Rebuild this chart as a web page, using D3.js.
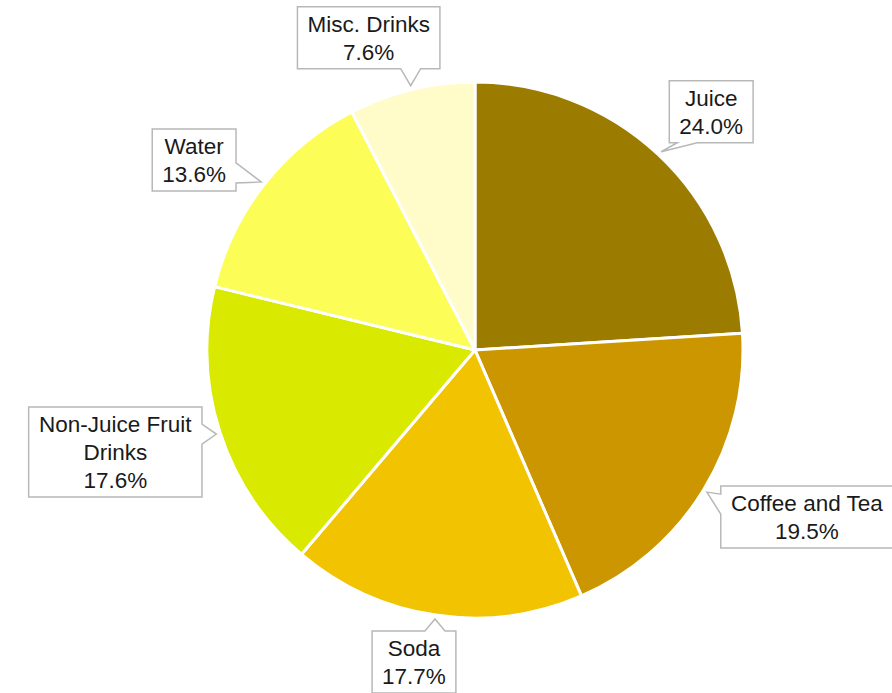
<!DOCTYPE html>
<html>
<head>
<meta charset="utf-8">
<script src="https://cdn.jsdelivr.net/npm/d3@7"></script>
<style>
  html, body { margin: 0; padding: 0; background: #fff; }
  svg { display: block; }
</style>
</head>
<body>
<div id="vis"></div>
<script>
// chart data
var categories = ['Juice', 'Coffee and Tea', 'Soda', 'Non-Juice Fruit Drinks', 'Water', 'Misc. Drinks'];
var shares = [24.0, 19.5, 17.7, 17.6, 13.6, 7.6];
var labelLines = [['Juice'], ['Coffee and Tea'], ['Soda'], ['Non-Juice Fruit', 'Drinks'], ['Water'], ['Misc. Drinks']];
var colors = ['#9b7b00', '#cc9600', '#f2c300', '#d9ea00', '#fdfd58', '#fffcca'];

// callout placement: which edge carries the pointer, and box centre offset from the tip
var callouts = [
  { side: 'bottom', dx: 50, dy: -40 },
  { side: 'left', dx: 100, dy: 25 },
  { side: 'top', dx: -21, dy: 43 },
  { side: 'right', dx: -101, dy: 18 },
  { side: 'right', dx: -67, dy: -22 },
  { side: 'bottom', dx: -42, dy: -48 }
];

var width = 892, height = 693;
var cx = 475, cy = 350, radius = 268;

var svg = d3.select('#vis').append('svg')
  .attr('width', width)
  .attr('height', height);

var pie = d3.pie().sort(null).value(function (d) { return d; });
var arcs = pie(shares);

var arc = d3.arc().innerRadius(0).outerRadius(radius);

var g = svg.append('g').attr('transform', 'translate(' + cx + ',' + cy + ')');

g.selectAll('path.slice')
  .data(arcs)
  .enter()
  .append('path')
  .attr('class', 'slice')
  .attr('d', arc)
  .attr('fill', function (d, i) { return colors[i]; })
  .attr('stroke', '#fff')
  .attr('stroke-width', 3)
  .attr('stroke-linejoin', 'round');

//________________________________________________
// callouts
//________________________________________________
var fontSize = 22.5, lineH = 28, padX = 10, padY = 3;

arcs.forEach(function (d, i) {
  var mid = (d.startAngle + d.endAngle) / 2;
  var tipR = radius + 4;
  var tx = cx + Math.sin(mid) * tipR;
  var ty = cy - Math.cos(mid) * tipR;
  var c = callouts[i];

  var lines = labelLines[i].concat([d3.format('.1f')(shares[i]) + '%']);

  var lg = svg.append('g');
  var box = lg.append('path');
  var text = lg.append('text')
    .attr('font-family', 'Liberation Sans, Arial, Helvetica, sans-serif')
    .attr('font-size', fontSize)
    .attr('fill', '#1a1a1a')
    .attr('text-anchor', 'middle');

  var bx = tx + c.dx, by = ty + c.dy;
  var h = lines.length * lineH + padY * 2;
  lines.forEach(function (l, k) {
    text.append('tspan')
      .attr('x', bx)
      .attr('y', by - h / 2 + padY + lineH * k + lineH * 0.78)
      .text(l);
  });
  var w = text.node().getBBox().width + padX * 2;

  var x0 = bx - w / 2, x1 = bx + w / 2, y0 = by - h / 2, y1 = by + h / 2;
  var half = 10, inset = 8;
  var p = d3.path();
  function base(lo, hi, t) {
    return Math.max(lo + inset + half, Math.min(hi - inset - half, t));
  }
  p.moveTo(x0, y0);
  if (c.side === 'top') {
    var m = base(x0, x1, tx);
    p.lineTo(m - half, y0); p.lineTo(tx, ty); p.lineTo(m + half, y0);
  }
  p.lineTo(x1, y0);
  if (c.side === 'right') {
    var m2 = base(y0, y1, ty);
    p.lineTo(x1, m2 - half); p.lineTo(tx, ty); p.lineTo(x1, m2 + half);
  }
  p.lineTo(x1, y1);
  if (c.side === 'bottom') {
    var m3 = base(x0, x1, tx);
    p.lineTo(m3 + half, y1); p.lineTo(tx, ty); p.lineTo(m3 - half, y1);
  }
  p.lineTo(x0, y1);
  if (c.side === 'left') {
    var m4 = base(y0, y1, ty);
    p.lineTo(x0, m4 + half); p.lineTo(tx, ty); p.lineTo(x0, m4 - half);
  }
  p.closePath();

  box.attr('d', p.toString())
    .attr('fill', '#fff')
    .attr('stroke', '#b8b8b8')
    .attr('stroke-width', 1.5);
});
</script>
</body>
</html>
